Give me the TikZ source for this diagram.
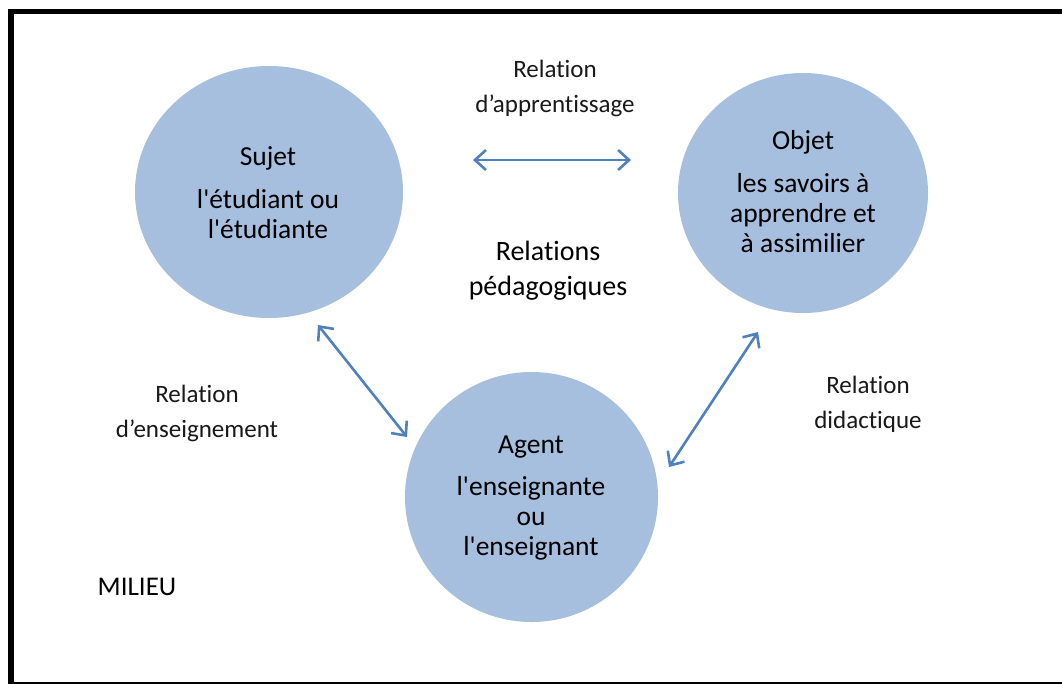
\documentclass[tikz,border=0pt]{standalone}
\usepackage{fontspec}
\setmainfont{Carlito}[Ligatures={TeX,NoCommon}]
\usetikzlibrary{arrows.meta,shapes.geometric}
\definecolor{cfill}{RGB}{167,191,222}
\definecolor{arr}{RGB}{79,129,189}
\newcommand{\sq}{\textquotesingle}
\begin{document}
\begin{tikzpicture}[x=1pt,y=-1pt,
  disc/.style={ellipse,fill=cfill,draw=none,inner sep=0pt},
  ctext/.style={anchor=base,align=center,font=\fontsize{27.5}{30}\selectfont,text=black},
  lbl/.style={anchor=base,align=center,font=\fontsize{25}{35}\selectfont,text=black!90},
  bigl/.style={anchor=base,align=center,font=\fontsize{28}{35}\selectfont,text=black},
  rel/.style={arr,line width=2.6pt,{Straight Barb[length=11pt,width=20pt]}-{Straight Barb[length=11pt,width=20pt]}}]
\useasboundingbox (0,0) rectangle (1062,683);
\fill[white] (0,0) rectangle (1062,683);
\draw[line width=5.5pt] (11.2,11.5) rectangle (1075,684.8);
% circles
\node[disc,minimum width=268pt,minimum height=252pt] (sujet) at (269,192) {};
\node[disc,minimum width=250pt,minimum height=240pt] (objet) at (803,193) {};
\node[disc,minimum width=253pt,minimum height=250pt] (agent) at (531.5,497) {};
% circle texts (base = baseline of last line)
\node[ctext] (sujett) at (268,165) {Sujet};
\node[ctext] (sujetb) at (268,238) {l\sq étudiant ou\\l\sq étudiante};
\node[ctext] (objett) at (803,149) {Objet};
\node[ctext] (objetb) at (803,252) {les savoirs à\\apprendre et\\à assimilier};
\node[ctext] (agentt) at (531,453) {Agent};
\node[ctext] (agentb) at (531,555) {l\sq enseignante\\ou\\l\sq enseignant};
% labels
\node[lbl] (lapp) at (555,112) {Relation\\d’apprentissage};
\node[bigl] (lped) at (548,295) {Relations\\pédagogiques};
\node[lbl] (lens) at (197,437) {Relation\\d’enseignement};
\node[lbl] (ldid) at (868,428) {Relation\\didactique};
\node[anchor=base,font=\fontsize{27}{30}\selectfont] (milieu) at (137,595) {MILIEU};
% arrow end points
\coordinate (a1) at (473,160);
\coordinate (a2) at (631,160);
\coordinate (b1) at (318,325);
\coordinate (b2) at (407,437);
\coordinate (c1) at (758,332);
\coordinate (c2) at (669,467);
\draw[rel] (a1) -- (a2);
\draw[rel] (b1) -- (b2);
\draw[rel] (c1) -- (c2);
\end{tikzpicture}
\end{document}
